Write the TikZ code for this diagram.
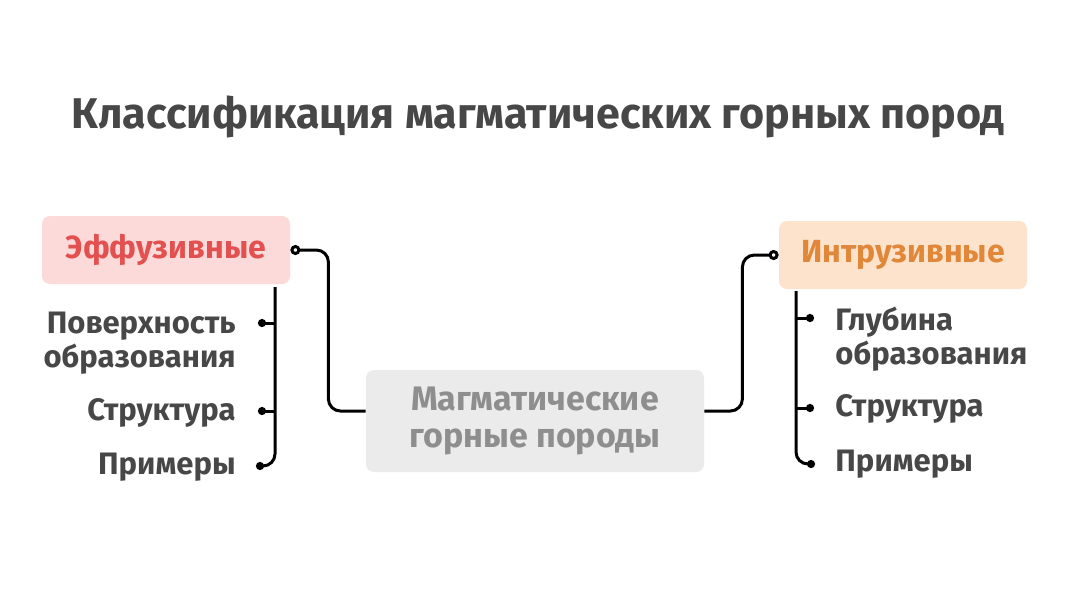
\documentclass[tikz,border=0pt]{standalone}
\usepackage{fontspec}
\setmainfont{Fira Sans}
\usepackage{xcolor}
\definecolor{RockInk}  {HTML}{474747}
\definecolor{RockRed}  {HTML}{E2504F}
\definecolor{RockPink} {HTML}{FDDADA}
\definecolor{RockOrange}{HTML}{E0873A}
\definecolor{RockPeach}{HTML}{FDE3CB}
\definecolor{RockGray} {HTML}{8E8E8E}
\definecolor{RockLight}{HTML}{EBEBEB}
\usetikzlibrary{arrows.meta,positioning,calc}
\tikzset{
  catnode/.style={rectangle,rounded corners=4pt,
    font=\fontsize{16}{19}\selectfont\bfseries,
    minimum width=124pt,minimum height=34pt,inner sep=2pt},
  effnode/.style={catnode,fill=RockPink,text=RockRed},
  intnode/.style={catnode,fill=RockPeach,text=RockOrange},
  rootnode/.style={rectangle,rounded corners=4pt,fill=RockLight,
    text=RockGray,font=\fontsize{17}{18.5}\selectfont\bfseries,
    minimum width=169pt,minimum height=51pt,align=center},
  leafnode/.style={text=RockInk,font=\fontsize{15.5}{17}\selectfont\bfseries,
    inner sep=0pt},
  linkedge/.style={line width=1.5pt,black,rounded corners=6pt},
  leafedge/.style={line width=1.5pt,black,rounded corners=6pt,
    -{Circle[length=4pt]}},
}

\begin{document}
\begin{tikzpicture}[x=0.5pt,y=-0.5pt]
  \useasboundingbox[fill=white](0,0)rectangle(1080,607);
  \node[text=RockInk,font=\fontsize{21.5}{24}\selectfont\bfseries](T)at(538,117)
    {Классификация магматических горных пород};
  \node[rootnode](C)at(535,421){Магматические\\горные породы};
  \node[effnode](E)at(166,250){Эффузивные};
  \node[intnode](I)at(903,255){Интрузивные};
  \draw[linkedge,{Circle[open,length=5pt]}-](E.east)--++(38,0)
    |-([yshift=5pt]C.west);
  \draw[linkedge,-{Circle[open,length=5pt]}]([yshift=5pt]C.east)--++(38,0)
    |-(I.west);
  % effusive leaves
  \node[leafnode,anchor=east,align=right](Lpov)at(236,343)
    {Поверхность\\образования};
  \node[leafnode,anchor=east](Lstr)at(236,413){Структура};
  \node[leafnode,anchor=east](Lpri)at(236,467){Примеры};
  \coordinate(Lt)at(275,287);
  \coordinate(Ld1)at(258,323);
  \coordinate(Ld2)at(258,411);
  \coordinate(Ld3)at(256,466);
  \draw[leafedge](Lt)|-(Ld3);
  \draw[leafedge](Lt|-Ld1)--(Ld1);
  \draw[leafedge](Lt|-Ld2)--(Ld2);
  % intrusive leaves
  \node[leafnode,anchor=west,align=left](Rglu)at(835,339)
    {Глубина\\образования};
  \node[leafnode,anchor=west](Rstr)at(835,409){Структура};
  \node[leafnode,anchor=west](Rpri)at(835,464){Примеры};
  \coordinate(Rt)at(796,291);
  \coordinate(Rd1)at(814,318);
  \coordinate(Rd2)at(814,408);
  \coordinate(Rd3)at(815,464);
  \draw[leafedge](Rt)|-(Rd3);
  \draw[leafedge](Rt|-Rd1)--(Rd1);
  \draw[leafedge](Rt|-Rd2)--(Rd2);
\end{tikzpicture}
\end{document}
